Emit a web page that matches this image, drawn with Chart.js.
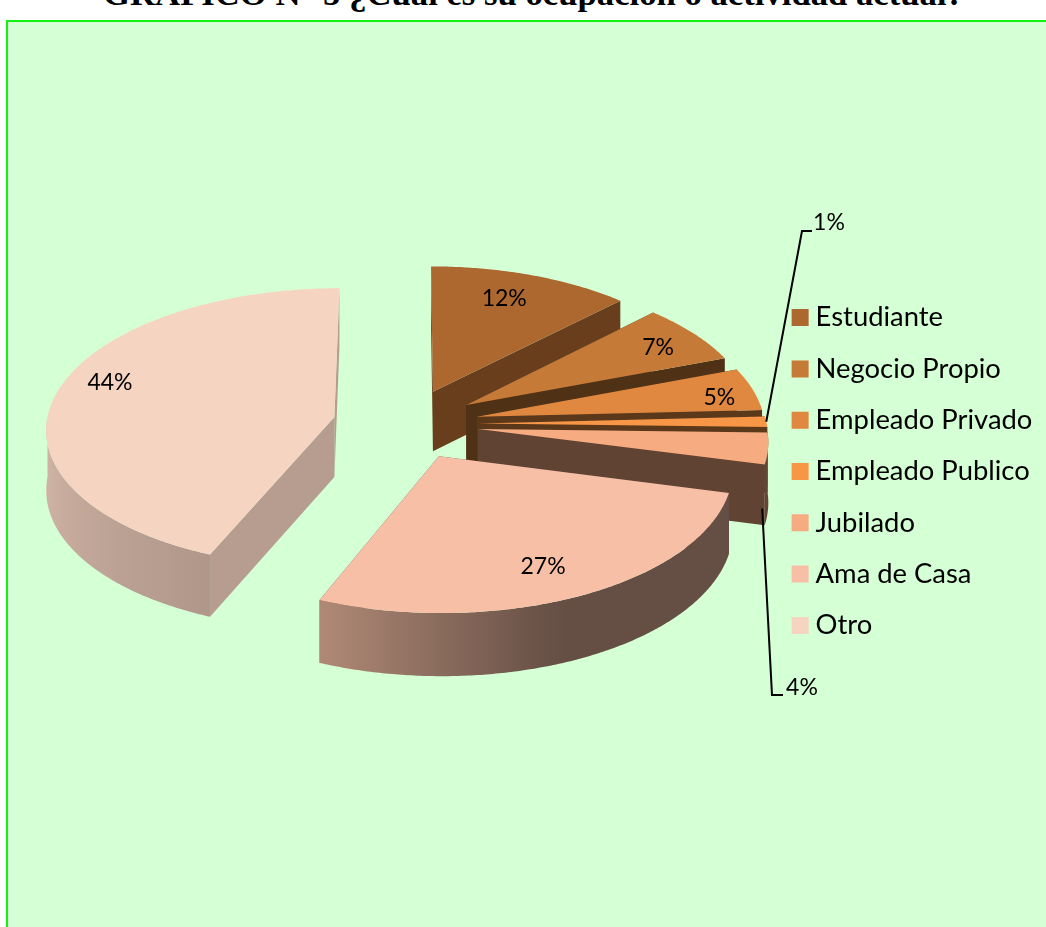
<!DOCTYPE html>
<html lang="es">
<head>
<meta charset="utf-8">
<title>Ocupación</title>
<script src="https://cdn.jsdelivr.net/npm/chart.js@4"></script>
<style>
html,body{margin:0;padding:0;background:#fff;width:1046px;height:927px;overflow:hidden}
#panel{position:absolute;left:6px;top:20px;width:1060px;height:930px;background:#d5ffd5;border:2px solid #14f014;box-sizing:border-box}
#title{position:absolute;left:0;top:-26px;width:1067px;text-align:center;font:bold 34.7px "Liberation Serif",serif;color:#000;white-space:nowrap}
#wrap{position:absolute;left:0;top:0;width:1046px;height:927px}
</style>
</head>
<body>
<div id="panel"></div>
<div id="title">GRÁFICO N° 5 ¿Cuál es su ocupación o actividad actual?</div>
<div id="wrap"><canvas id="c" width="1046" height="927"></canvas></div>
<script>
const categories = ["Estudiante","Negocio Propio","Empleado Privado","Empleado Publico","Jubilado","Ama de Casa","Otro"];
const percentages = [12.4,6.9,4.9,1.2,3.6,27.3,43.7];
const sliceColors = ["#ad6830","#c67a38","#e08840","#f79646","#f6ab80","#f7c0a6","#f6d4c2"];

const FONT = 'Lato, "Open Sans", sans-serif';
const SQUASH = 0.485, PERSP = 0.000265, DEPTH = 60, SHIFT_Y = -47.5;
const edgeShade = [0.60,0.40,0.41,0.37,0.39,0.40,0.74];
const labelPlace = {0:[-2,0.78],1:[1.2,0.825],2:[2.5,0.868],5:[1.8,0.79],6:[6,0.84]};
const outsideLabels = {3:{elbow:[802,231],end:[812,231],text:[829,223]},4:{elbow:[772,695],end:[783,695],text:[802,688]}};

function hexRgb(h){return [1,3,5].map(i=>parseInt(h.substr(i,2),16));}
function shade(h,f){return 'rgb('+hexRgb(h).map(c=>Math.round(c*f)).join(',')+')';}
function rimShade(t){
  const d=t*180/Math.PI;
  if(d<=69) return 0.41;
  if(d<=111.6) return 0.41+(d-69)/(111.6-69)*0.30;
  return 0.71+(d-111.6)/(180-111.6)*0.16;
}

const pie3d = {
  id:'pie3d',
  beforeDatasetsDraw(chart){
    const ctx=chart.ctx, arcs=chart.getDatasetMeta(0).data;
    const first=arcs[0], X0=first.x, Y0=first.y+SHIFT_Y;
    const P=(u,v)=>{const w=1/(1-PERSP*v);return {x:X0+u*w,y:Y0+SQUASH*v*w,w};};
    const drop=p=>({x:p.x,y:p.y+DEPTH*(1+(p.w-1)*0.5)});
    const poly=(pts,fill)=>{ctx.beginPath();pts.forEach((p,i)=>i?ctx.lineTo(p.x,p.y):ctx.moveTo(p.x,p.y));ctx.closePath();ctx.fillStyle=fill;ctx.fill();};
    const geo=arcs.map(a=>{
      const mid=(a.startAngle+a.endAngle)/2, off=a.options.offset, R=a.outerRadius;
      const cu=Math.cos(mid)*off, cv=Math.sin(mid)*off;
      const at=(t,f=1)=>P(cu+Math.cos(t)*R*f,cv+Math.sin(t)*R*f);
      return {a,mid,at,apex:P(cu,cv)};
    });
    ctx.save();
    geo.forEach((g,i)=>{
      const {a,at,apex}=g, base=sliceColors[i];
      const edge=shade(base,edgeShade[i]);
      poly([apex,at(a.startAngle),drop(at(a.startAngle)),drop(apex)],edge);
      poly([apex,at(a.endAngle),drop(at(a.endAngle)),drop(apex)],edge);
      const from=Math.max(a.startAngle,0), to=Math.min(a.endAngle,Math.PI);
      if(to>from){
        const n=Math.ceil((to-from)/0.01), upper=[], lower=[];
        for(let k=0;k<=n;k++){const p=at(from+(to-from)*k/n);upper.push(p);lower.unshift(drop(p));}
        const x1=upper[0].x, x2=upper[n].x;
        const grad=ctx.createLinearGradient(x1,0,x2,0);
        for(let k=0;k<=n;k+=Math.max(1,Math.floor(n/24))){
          const tt=from+(to-from)*k/n;
          grad.addColorStop(Math.max(0,Math.min(1,(upper[k].x-x1)/(x2-x1))),shade(base,rimShade(tt)));
        }
        grad.addColorStop(1,shade(base,rimShade(to)));
        poly(upper.concat(lower),grad);
      }
      const top=[apex];
      const n=Math.max(4,Math.ceil((a.endAngle-a.startAngle)/0.01));
      for(let k=0;k<=n;k++) top.push(at(a.startAngle+(a.endAngle-a.startAngle)*k/n));
      poly(top,base);
    });
    ctx.font='23px '+FONT;ctx.textAlign='center';ctx.textBaseline='middle';
    geo.forEach((g,i)=>{
      const out=outsideLabels[i], text=Math.round(percentages[i])+'%';
      ctx.fillStyle='#000';
      if(!out){
        const [da,f]=labelPlace[i];
        const p=g.at(g.mid+da*Math.PI/180,f);
        ctx.fillText(text,p.x,p.y);
        return;
      }
      let s=g.at(g.mid);
      if(i===4) s=drop(g.at(g.mid,0.98));
      ctx.beginPath();ctx.moveTo(s.x,s.y);ctx.lineTo(out.elbow[0],out.elbow[1]);ctx.lineTo(out.end[0],out.end[1]);
      ctx.strokeStyle='#000';ctx.lineWidth=2;ctx.stroke();
      ctx.fillText(text,out.text[0],out.text[1]);
    });
    ctx.restore();
    return false;
  }
};

new Chart(document.getElementById('c'),{
  type:'pie',
  plugins:[pie3d],
  data:{labels:categories,datasets:[{data:percentages,backgroundColor:sliceColors,borderWidth:0,offset:73,radius:288}]},
  options:{
    responsive:false,animation:false,
    layout:{padding:{top:16,left:37,right:3.6}},
    plugins:{
      tooltip:{enabled:false},
      legend:{
        position:'right',
        labels:{
          color:'#000',boxWidth:3.6,boxHeight:3.6,padding:23.9,
          font:{family:FONT,size:27.4},
          generateLabels(chart){
            return Chart.overrides.pie.plugins.legend.labels.generateLabels(chart).map(l=>({...l,strokeStyle:l.fillStyle,lineWidth:13.4}));
          }
        }
      }
    }
  }
});
</script>
</body>
</html>
